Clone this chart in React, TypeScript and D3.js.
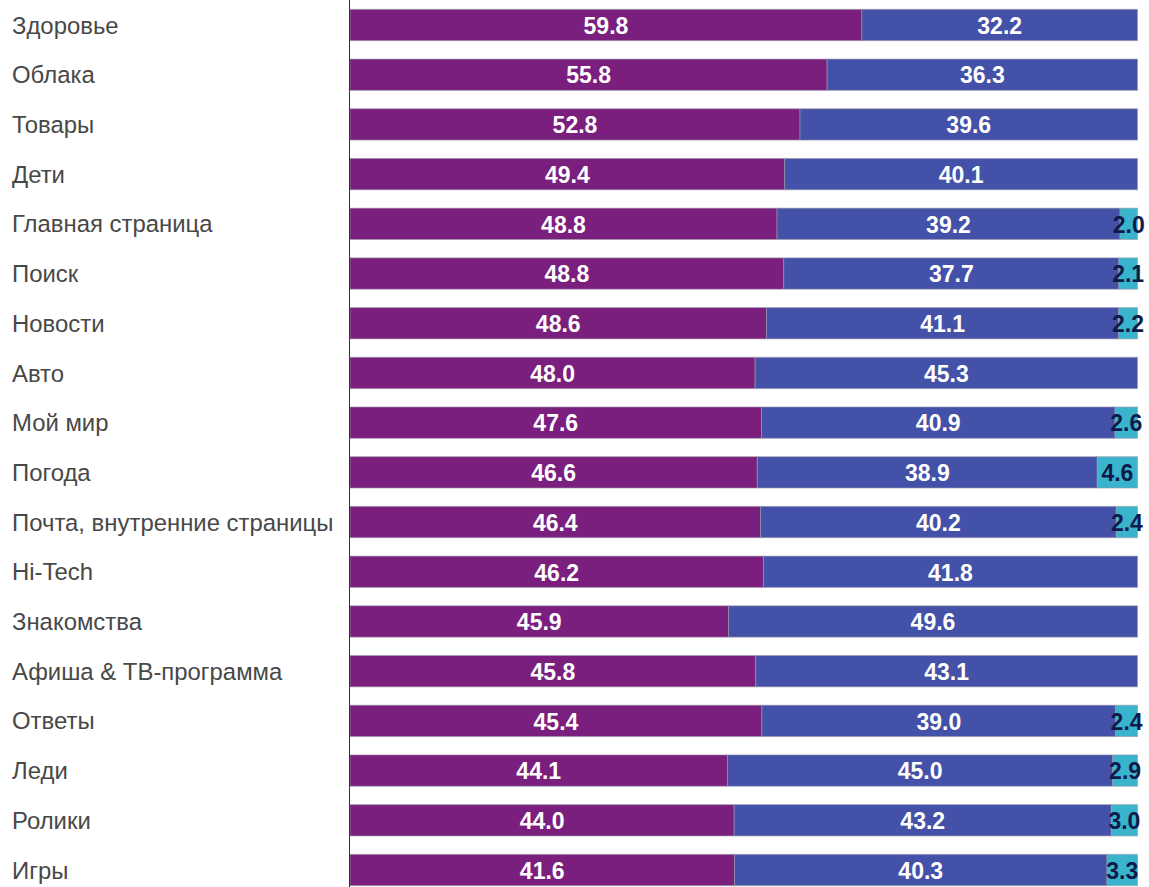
import React from "react";
import * as d3 from "d3";

const categories = [
  "Здоровье", "Облака", "Товары", "Дети", "Главная страница", "Поиск", "Новости", "Авто",
  "Мой мир", "Погода", "Почта, внутренние страницы", "Hi-Tech", "Знакомства",
  "Афиша & ТВ-программа", "Ответы", "Леди", "Ролики", "Игры",
];
const seriesA = [59.8, 55.8, 52.8, 49.4, 48.8, 48.8, 48.6, 48.0, 47.6, 46.6, 46.4, 46.2, 45.9, 45.8, 45.4, 44.1, 44.0, 41.6];
const seriesB = [32.2, 36.3, 39.6, 40.1, 39.2, 37.7, 41.1, 45.3, 40.9, 38.9, 40.2, 41.8, 49.6, 43.1, 39.0, 45.0, 43.2, 40.3];
const seriesC = [0, 0, 0, 0, 2.0, 2.1, 2.2, 0, 2.6, 4.6, 2.4, 0, 0, 0, 2.4, 2.9, 3.0, 3.3];

const colors = ["#7b1f7e", "#4451a8", "#3ab3cd"];
const labelColors = ["#ffffff", "#ffffff", "#0f1a4a"];

export default function App() {
  const W = 1149, H = 887;
  const x0 = 350, x1 = 1137.5;
  const rows = categories.map((c, i) => {
    const vals = [seriesA[i], seriesB[i], seriesC[i]];
    const total = d3.sum(vals);
    let acc = 0;
    const segs = vals.map((v, k) => {
      const s = { k, v, start: acc / total, end: (acc + v) / total };
      acc += v;
      return s;
    });
    return { c, segs };
  });
  const x = d3.scaleLinear().domain([0, 1]).range([x0, x1]);
  const step = (870 - 25) / 17;
  const y = d3.scaleBand<string>().domain(categories).range([25 - step / 2, 870 + step / 2]).paddingInner(0.37).paddingOuter(0.185);

  return (
    <svg width={W} height={H} style={{ position: "absolute", left: 0, top: 0 }} fontFamily="Arial, 'Liberation Sans', sans-serif">
      <rect width={W} height={H} fill="#fff" />
      {rows.map((r) => {
        const yy = y(r.c)!;
        const bh = y.bandwidth();
        return (
          <g key={r.c}>
            <text x={12} y={yy + bh / 2} dy="0.36em" fontSize={23.9} fill="#484848">{r.c}</text>
            {r.segs.filter((s) => s.v > 0).map((s) => (
              <rect key={s.k} x={x(s.start)} y={yy} width={x(s.end) - x(s.start)} height={bh}
                fill={colors[s.k]} stroke="#9a9aa8" strokeOpacity={0.6} strokeWidth={1} />
            ))}
            {r.segs.filter((s) => s.v > 0).map((s) => (
              <text key={"t" + s.k} x={(x(s.start) + x(s.end)) / 2} y={yy + bh / 2} dy="0.38em"
                textAnchor="middle" fontSize={23} fontWeight="bold" fill={labelColors[s.k]}>
                {s.v.toFixed(1)}
              </text>
            ))}
          </g>
        );
      })}
      <line x1={349.5} x2={349.5} y1={0} y2={H} stroke="#333" strokeWidth={1} />
    </svg>
  );
}
